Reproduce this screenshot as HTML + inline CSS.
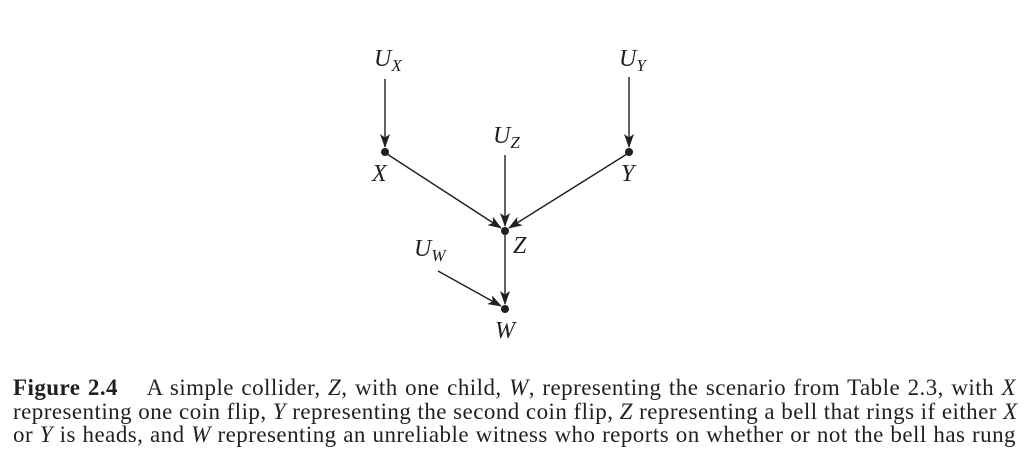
<!DOCTYPE html>
<html><head><meta charset="utf-8"><style>
body{margin:0;width:1027px;height:473px;background:#fff;overflow:hidden;position:relative;font-family:"Liberation Serif",serif;color:#231f20}
.ln{position:absolute;left:13px;width:1003px;font-size:23px;letter-spacing:0.45px;line-height:23px;white-space:nowrap;text-align:justify;text-align-last:justify}
.ln.last{text-align-last:left}
i{font-style:italic}
svg text{font-family:"Liberation Serif",serif;font-style:italic;fill:#231f20}
</style></head><body>
<svg width="1027" height="360" style="position:absolute;left:0;top:0">
<defs><marker id="ah" markerWidth="14" markerHeight="10" refX="13" refY="5" orient="auto" markerUnits="userSpaceOnUse"><path d="M0,0 L14,5 L0,10 L3.5,5Z" fill="#231f20"/></marker></defs>
<g stroke="#231f20" stroke-width="1.4" fill="none" marker-end="url(#ah)">
<line x1="385" y1="79" x2="385" y2="147"/>
<line x1="629" y1="77" x2="629" y2="147"/>
<line x1="505" y1="155" x2="505" y2="226"/>
<line x1="387" y1="154" x2="501" y2="228"/>
<line x1="627" y1="154" x2="509" y2="228"/>
<line x1="505" y1="233" x2="505" y2="304"/>
<line x1="438" y1="271" x2="501" y2="306"/>
</g>
<g fill="#231f20">
<circle cx="385" cy="152" r="4"/>
<circle cx="629" cy="152" r="4"/>
<circle cx="505" cy="231" r="4"/>
<circle cx="505" cy="309" r="4"/>
</g>
<text x="374" y="66" font-size="24">U<tspan font-size="17" dy="5">X</tspan></text>
<text x="619" y="66" font-size="24">U<tspan font-size="17" dy="5">Y</tspan></text>
<text x="493" y="143" font-size="24">U<tspan font-size="17" dy="5">Z</tspan></text>
<text x="414" y="256" font-size="24">U<tspan font-size="17" dy="5">W</tspan></text>
<text x="372" y="181" font-size="24">X</text>
<text x="621" y="181" font-size="24">Y</text>
<text x="513" y="253" font-size="24">Z</text>
<text x="495" y="338" font-size="24">W</text>
</svg>
<div>
<div class="ln" style="top:376px"><b>Figure 2.4</b>&nbsp;&nbsp;&nbsp; A simple collider, <i>Z</i>, with one child, <i>W</i>, representing the scenario from Table 2.3, with <i>X</i></div>
<div class="ln" style="top:400px">representing one coin flip, <i>Y</i> representing the second coin flip, <i>Z</i> representing a bell that rings if either <i>X</i></div>
<div class="ln" style="top:423px">or <i>Y</i> is heads, and <i>W</i> representing an unreliable witness who reports on whether or not the bell has rung</div>
</div>
</body></html>
